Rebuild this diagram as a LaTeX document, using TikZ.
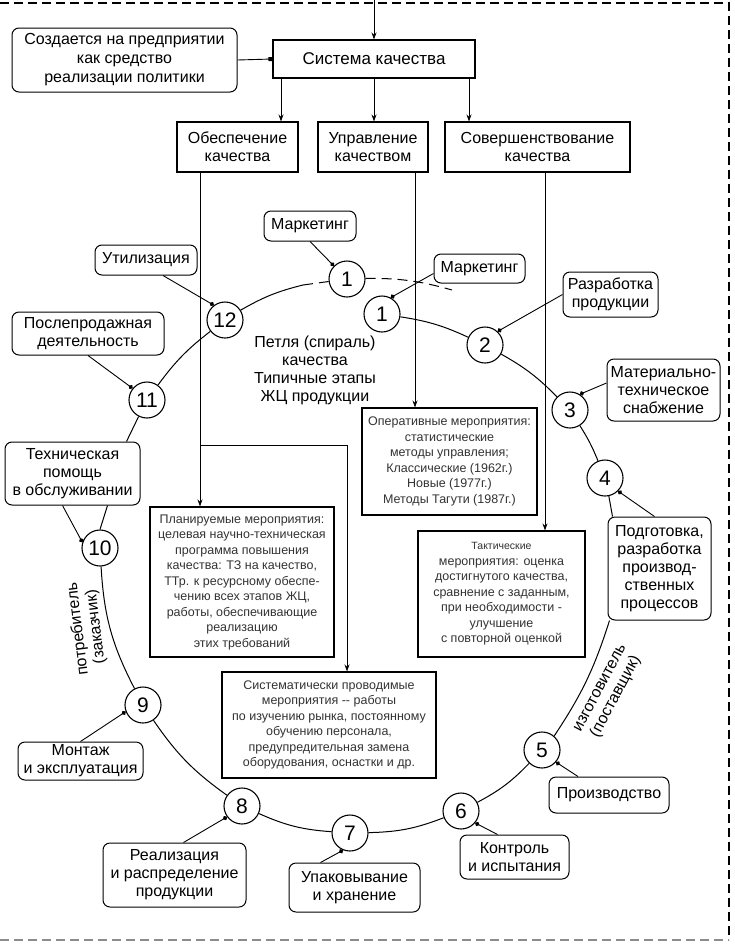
\documentclass[tikz,border=0pt]{standalone}
\usepackage{fontspec}
\setmainfont{Liberation Sans}
\usetikzlibrary{arrows.meta}
\newcommand\lfnt{\fontsize{16}{18}\selectfont}
\newcommand\smfnt{\fontsize{12.5}{15.5}\selectfont}
\begin{document}
\begin{tikzpicture}[x=1pt,y=1pt,
  sz/.style 2 args={minimum width=#1pt, minimum height=#2pt},
  sq/.style={draw, line width=1.1pt, inner sep=0pt, align=center, font=\lfnt},
  rb/.style={draw, rounded corners=7pt, line width=1pt, inner sep=0pt, align=center, font=\lfnt},
  desc/.style={draw, line width=1.1pt, inner sep=0pt, align=center, font=\smfnt, text=black!80},
  num/.style={circle, draw, line width=1.1pt, minimum size=36pt, inner sep=0pt, fill=white, font=\fontsize{21}{21}\selectfont},
  ln/.style={line width=0.9pt},
  arr/.style={ln, -{Stealth[length=7pt,width=5pt]}},
  lbl/.style={ln, -{Circle[length=4.5pt]}},
  loopln/.style={line width=1pt},
  dsh/.style={line width=1pt, dash pattern=on 10pt off 6pt}
]
\useasboundingbox (0,0) rectangle (734,-948);
\fill[white] (0,0) rectangle (734,-948);
% frame
\draw[line width=1.6pt, dash pattern=on 9pt off 5pt] (0,-3) -- (729,-3) -- (729,-940);
\draw[black!45, line width=1.4pt, dash pattern=on 9pt off 5pt] (0,-940) -- (729,-940);

% top part
\node[sq, sz={202}{38}, font=\fontsize{17}{19}\selectfont] (sys) at (374,-59) {Система качества};
\node[rb, sz={225}{64}, font=\fontsize{16}{19}\selectfont] (cr) at (124.5,-60) {Создается на предприятии\\как средство\\реализации политики};
\node[sq, sz={121}{50}] (obesp) at (237.5,-147) {Обеспечение\\качества};
\node[sq, sz={110}{50}] (upr) at (373,-147) {Управление\\качеством};
\node[sq, sz={185}{50}] (sover) at (537.5,-147) {Совершенствование\\качества};

\coordinate (topin) at (374,0);
\draw[arr] (topin) -- (sys.north);
\draw[ln, -{Square[length=4pt]}] (cr.east) -- (sys.west);
\coordinate (xa) at (281,0);
\coordinate (xb) at (374,0);
\coordinate (xc) at (469,0);
\draw[arr] (sys.south -| xa) -- (obesp.north -| xa);
\draw[arr] (sys.south -| xb) -- (upr.north -| xb);
\draw[arr] (sys.south -| xc) -- (sover.north -| xc);

% description boxes
\node[desc, sz={175}{107}] (oper) at (449.5,-461.5) {Оперативные мероприятия:\\статистические\\методы управления;\\Классические (1962г.)\\Новые (1977г.)\\Методы Тагути (1987г.)};
\node[desc, sz={184}{150}] (plan) at (242,-582) {Планируемые мероприятия:\\целевая научно-техническая\\программа повышения\\качества: ТЗ на качество,\\ТТр. к ресурсному обеспе-\\чению всех этапов ЖЦ,\\работы, обеспечивающие\\реализацию\\этих требований};
\node[desc, sz={167}{126}] (takt) at (501.5,-594) {{\fontsize{10.5}{15.5}\selectfont Тактические}\\мероприятия: оценка\\достигнутого качества,\\сравнение с заданным,\\при необходимости -\\улучшение\\с повторной оценкой};
\node[desc, sz={214}{106}] (sist) at (329,-725) {Систематически проводимые\\мероприятия -{}- работы\\по изучению рынка, постоянному\\обучению персонала,\\предупредительная замена\\оборудования, оснастки и др.};

\coordinate (x200) at (200,0);
\coordinate (brk) at (200,-445);
\coordinate (brk2) at (347,-445);
\coordinate (x415) at (415,0);
\coordinate (x545) at (545,0);
\draw[arr] (obesp.south -| x200) -- (plan.north -| x200);
\draw[arr] (brk) -- (brk2) -- (sist.north -| brk2);
\draw[arr] (upr.south -| x415) -- (oper.north -| x415);
\draw[arr] (sover.south -| x545) -- (takt.north -| x545);

% label boxes
\node[rb, sz={92}{30}] (mk1) at (310,-226) {Маркетинг};
\node[rb, sz={91}{29}] (mk2) at (479.5,-268.5) {Маркетинг};
\node[rb, sz={102}{30}] (ut) at (146,-260) {Утилизация};
\node[rb, sz={95}{45}] (razr) at (610.5,-294.5) {Разработка\\продукции};
\node[rb, sz={113}{62}] (mat) at (663.5,-390) {Материально-\\техническое\\снабжение};
\node[rb, sz={152}{43}] (posl) at (88,-333.5) {Послепродажная\\деятельность};
\node[rb, sz={135}{63}] (tech) at (72.5,-473.5) {Техническая\\помощь\\в обслуживании};
\node[rb, sz={103}{103}] (podg) at (659.5,-568.5) {Подготовка,\\разработка\\производ-\\ственных\\процессов};
\node[rb, sz={125}{38}] (mont) at (80.5,-761) {Монтаж\\и эксплуатация};
\node[rb, sz={120}{36}] (proizv) at (609,-795) {Производство};
\node[rb, sz={143}{64}] (real) at (174.5,-875) {Реализация\\и распределение\\продукции};
\node[rb, sz={131}{49}] (upak) at (354.5,-887.5) {Упаковывание\\и хранение};
\node[rb, sz={109}{44}] (kontr) at (514.5,-857) {Контроль\\и испытания};

\node[font=\lfnt, align=center] (petl) at (315,-370.5) {Петля (спираль)\\качества\\Типичные этапы\\ЖЦ продукции};
\node[font=\lfnt, align=center, rotate=62] (izg) at (609,-693) {изготовитель\\(поставщик)};
\node[font=\lfnt, align=center, rotate=97] (potr) at (87,-628) {потребитель\\(заказчик)};

% circles
\node[num] (c1a) at (347,-279) {1};
\node[num] (c1b) at (382,-314) {1};
\node[num] (c2) at (485,-345) {2};
\node[num] (c3) at (570,-410) {3};
\node[num] (c4) at (605,-478) {4};
\node[num] (c5) at (542,-750) {5};
\node[num] (c6) at (461,-811) {6};
\node[num] (c7) at (350,-833) {7};
\node[num] (c8) at (242,-806) {8};
\node[num] (c9) at (143,-705) {9};
\node[num] (c10) at (100,-548) {10};
\node[num] (c11) at (147,-400) {11};
\node[num] (c12) at (225,-320) {12};

% loop
\coordinate (dmid) at (303,-285);
\coordinate (dend) at (452,-290);
\draw[loopln] (c1b) to[bend left=8] (c2);
\draw[loopln] (c2) to[bend left=8] (c3);
\draw[loopln] (c3) to[bend left=5] (c4);
\draw[loopln] (c4.282) -- ([xshift=-47pt]podg.north);
\draw[loopln] ([xshift=2pt]podg.south west) to[bend left=8] (c5.49);
\draw[loopln] (c5) to[bend left=9] (c6);
\draw[loopln] (c6) to[bend left=10] (c7);
\draw[loopln] (c7) to[bend left=10] (c8);
\draw[loopln] (c8) to[bend left=10] (c9);
\draw[loopln] (c9) to[bend left=12] (c10);
\draw[loopln] ([xshift=35pt]tech.south) -- (c10.north);
\draw[loopln] (c11.243) -- ([xshift=54pt]tech.north);
\draw[loopln] (c11) to[bend left=8] (c12);
\draw[loopln] (c12) to[bend left=8] (dmid);
\draw[dsh] (dmid) -- (c1a);
\draw[dsh] (c1a) to[bend left=8] (dend);

% label connectors
\draw[lbl] (mk1.south) -- (c1a.135);
\draw[lbl] ([yshift=-5pt]mk2.west) -- (c1b.62);
\draw[lbl] ([xshift=17pt]ut.south) -- (c12.127);
\draw[lbl] (posl.south) -- (c11.141);
\draw[lbl] ([xshift=-10pt]tech.south) -- (c10.162);
\draw[lbl] (mont.north) -- (c9.201);
\draw[lbl] ([xshift=9pt]real.north) -- (c8.216);
\draw[lbl] ([xshift=-34pt]upak.north) -- (c7.248);
\draw[lbl] ([xshift=-17pt]kontr.north) -- (c6.320);
\draw[lbl] ([xshift=-31pt]proizv.north) -- (c5.319);
\draw[lbl] ([xshift=-5pt]podg.north) -- (c4.315);
\draw[lbl] ([yshift=7pt]mat.west) -- (c3.58);
\draw[lbl] (razr.west) -- (c2.47);
\end{tikzpicture}
\end{document}
